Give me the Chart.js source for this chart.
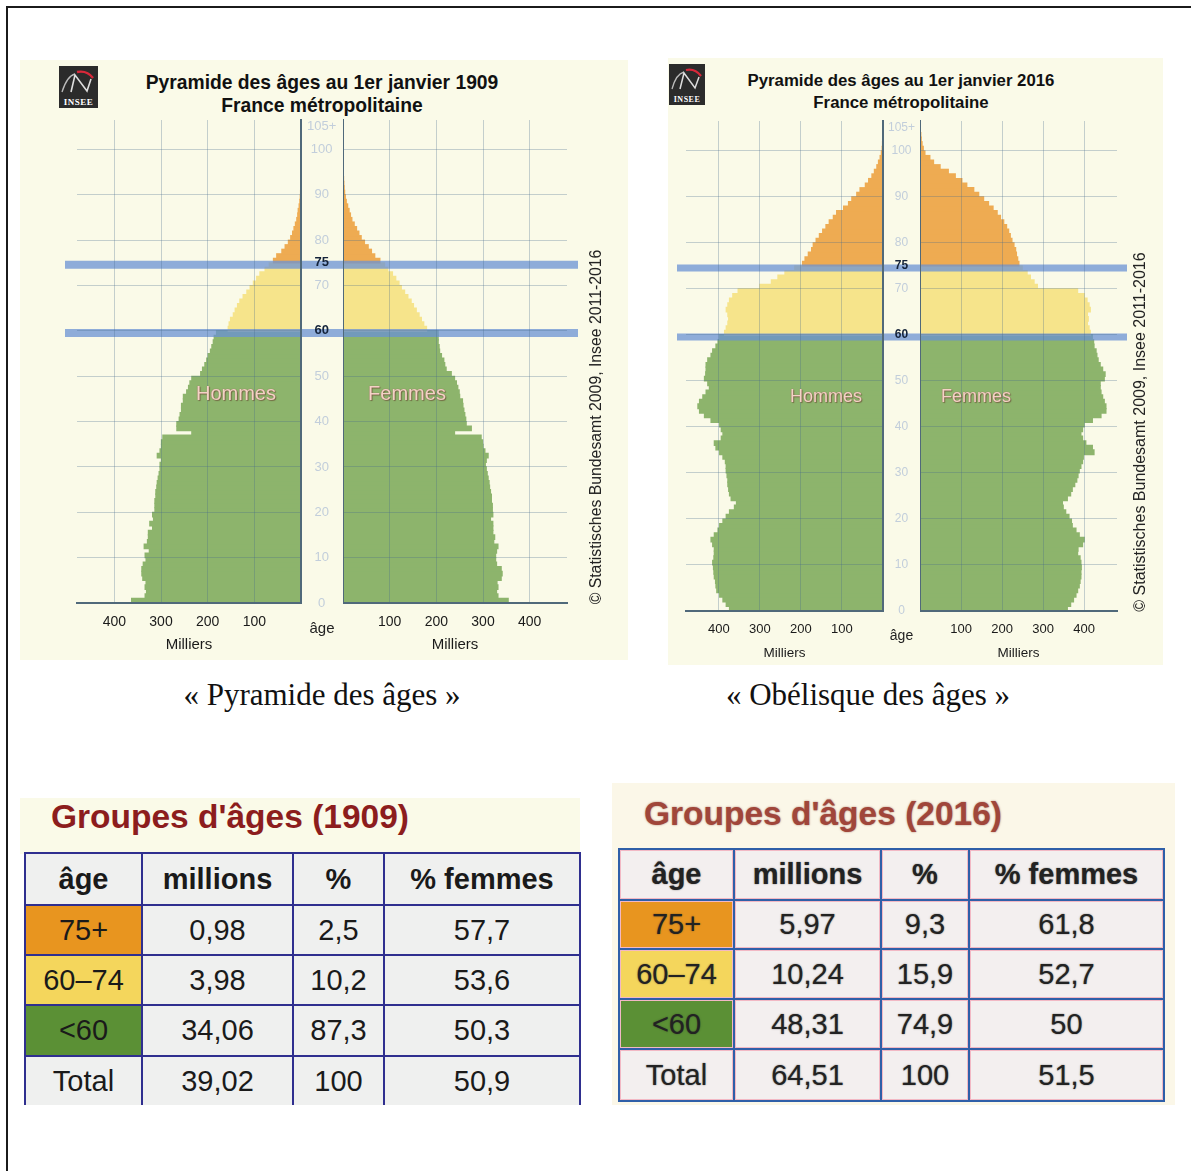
<!DOCTYPE html>
<html lang="fr">
<head>
<meta charset="utf-8">
<title>Pyramide et obélisque des âges</title>
<script src="https://cdn.jsdelivr.net/npm/chart.js@4.4.1/dist/chart.umd.min.js"></script>
<style>
    body { margin: 0; width: 1191px; height: 1171px; background: #fff; position: relative; overflow: hidden; font-family: 'Liberation Sans', Arial, sans-serif; }
    .abs { position: absolute; }
    #cadre { left: 6px; top: 6px; width: 1240px; height: 1240px; border: 2px solid #1b1b1b; }
    .panneau { background: #fafae8; }
    .titre { text-align: center; font-weight: bold; color: #111; }
    .sexe { color: #f4d2c6; text-shadow: 0 0 1px #8a5448, 1px 1px 1px rgba(90,45,35,0.55); }
    .age { color: #222; }
    .copyright { transform: rotate(-90deg); transform-origin: center center; white-space: nowrap; color: #222; text-align: center; line-height: 18px; }
    .legende { font-family: 'Liberation Serif', 'Times New Roman', serif; font-size: 31px; line-height: 36px; color: #111; text-align: center; }
    .logo { background: #2b2b2b; }
    .logo span { position: absolute; left: 0; right: 0; bottom: 1px; text-align: center; color: #fff; font-family: 'Liberation Serif', serif; font-weight: bold; letter-spacing: 0.5px; }
    canvas { position: absolute; }
    table { border-collapse: collapse; position: absolute; table-layout: fixed; }
    td { text-align: center; padding: 0; }
    #t1909 td { border: 2px solid #2f2f8f; background: #eff0ef; font-size: 29px; color: #1a1a1a; }
    #t1909 tr.fin td { border-bottom: none; }
    #t2016 td { border: 2px solid #2f5fa8; box-shadow: inset 0 0 0 1px #f2b8c4; background: #f3efef; font-size: 29px; color: #222; text-shadow: 0 0 1.5px rgba(40,40,40,0.7); }
    .entete td { font-weight: bold; }
</style>
</head>
<body>
<div id="cadre" class="abs"></div>

<div class="abs panneau" style="left:20px; top:60px; width:608px; height:600px;"></div>
<div class="abs panneau" style="left:668px; top:58px; width:495px; height:607px;"></div>

<div class="abs logo" style="left:59px; top:66px; width:39px; height:42px;">
    <svg width="39" height="32" style="position:absolute;left:0;top:0">
        <path d="M3 26 Q8 10 16 8" stroke="#bbb" stroke-width="1.3" fill="none"/>
        <polyline points="12,26 16,9 28,25 32,13" stroke="#ddd" stroke-width="1.6" fill="none"/>
        <path d="M18 6 Q28 4 34 12" stroke="#d8283a" stroke-width="2.4" fill="none"/>
    </svg>
    <span style="font-size:9px;">INSEE</span>
</div>
<div class="abs logo" style="left:669px; top:64px; width:36px; height:41px;">
    <svg width="36" height="31" style="position:absolute;left:0;top:0">
        <path d="M3 25 Q7 10 15 8" stroke="#bbb" stroke-width="1.3" fill="none"/>
        <polyline points="11,25 15,9 26,24 30,13" stroke="#ddd" stroke-width="1.5" fill="none"/>
        <path d="M17 6 Q26 4 32 12" stroke="#d8283a" stroke-width="2.2" fill="none"/>
    </svg>
    <span style="font-size:8px;">INSEE</span>
</div>

<div class="abs titre" style="left:90px; top:71px; width:464px; font-size:19.3px; line-height:23px;">Pyramide des âges au 1er janvier 1909<br>France métropolitaine</div>
<div class="abs titre" style="left:690px; top:70px; width:422px; font-size:16.8px; line-height:22px;">Pyramide des âges au 1er janvier 2016<br>France métropolitaine</div>

<canvas id="hommes1909" width="283" height="542" style="left:60px; top:112px;"></canvas>
<canvas id="femmes1909" width="240" height="542" style="left:343px; top:112px;"></canvas>
<canvas id="hommes2016" width="248" height="547" style="left:672px; top:114px;"></canvas>
<canvas id="femmes2016" width="212" height="547" style="left:920px; top:114px;"></canvas>

<div class="abs sexe" style="left:166px; top:382px; width:140px; text-align:center; font-size:20px;">Hommes</div>
<div class="abs sexe" style="left:337px; top:382px; width:140px; text-align:center; font-size:20px;">Femmes</div>
<div class="abs sexe" style="left:766px; top:386px; width:120px; text-align:center; font-size:18px;">Hommes</div>
<div class="abs sexe" style="left:916px; top:386px; width:120px; text-align:center; font-size:18px;">Femmes</div>

<div class="abs age" style="left:302px; top:619px; width:40px; text-align:center; font-size:15px;">âge</div>
<div class="abs age" style="left:883px; top:627px; width:37px; text-align:center; font-size:14px;">âge</div>

<div class="abs copyright" style="left:396px; top:418px; width:400px; font-size:15.8px;">© Statistisches Bundesamt 2009, Insee 2011-2016</div>
<div class="abs copyright" style="left:940px; top:423px; width:400px; font-size:16px;">© Statistisches Bundesamt 2009, Insee 2011-2016</div>

<div class="abs legende" style="left:122px; top:677px; width:400px;">« Pyramide des âges »</div>
<div class="abs legende" style="left:668px; top:677px; width:400px;">« Obélisque des âges »</div>

<div class="abs" style="left:20px; top:798px; width:560px; height:56px; background:#fafae8;"></div>
<div class="abs" style="left:51px; top:797px; font-size:33.5px; line-height:40px; font-weight:bold; color:#8c1d1d;">Groupes d'âges (1909)</div>

<div class="abs" style="left:612px; top:783px; width:563px; height:322px; background:#fbf7e8;"></div>
<div class="abs" style="left:644px; top:794px; font-size:33.5px; line-height:40px; font-weight:bold; color:#a0463a; text-shadow:0 0 2px rgba(120,40,30,0.6);">Groupes d'âges (2016)</div>

<table id="t1909" style="left:24px; top:852px;"></table>
<table id="t2016" style="left:618px; top:848px;"></table>

<script>
var ages = [0, 1, 2, 3, 4, 5, 6, 7, 8, 9, 10, 11, 12, 13, 14, 15, 16, 17, 18, 19,
    20, 21, 22, 23, 24, 25, 26, 27, 28, 29, 30, 31, 32, 33, 34, 35, 36, 37, 38, 39,
    40, 41, 42, 43, 44, 45, 46, 47, 48, 49, 50, 51, 52, 53, 54, 55, 56, 57, 58, 59,
    60, 61, 62, 63, 64, 65, 66, 67, 68, 69, 70, 71, 72, 73, 74, 75, 76, 77, 78, 79,
    80, 81, 82, 83, 84, 85, 86, 87, 88, 89, 90, 91, 92, 93, 94, 95, 96, 97, 98, 99,
    100, 101, 102, 103, 104, 105];
var ageTicks = [0, 10, 20, 30, 40, 50, 60, 70, 75, 80, 90, 100, 105];
var milliersTicks = [100, 200, 300, 400];
var seuils = [60, 75];

// effectifs en milliers, par âge (0 a 105+)
var hommes1909 = [363, 334, 331, 334, 332, 339, 341, 341, 338, 332,
    334, 325, 336, 329, 327, 327, 318, 324, 316, 318,
    313, 313, 313, 311, 311, 309, 308, 306, 304, 302,
    302, 299, 308, 302, 299, 299, 296, 234, 266, 266,
    261, 259, 256, 256, 252, 252, 245, 241, 238, 234,
    215, 211, 206, 202, 199, 194, 191, 188, 186, 181,
    156, 154, 151, 145, 141, 136, 131, 124, 116, 109,
    102, 95, 88, 77, 68, 59, 52, 41, 34, 27,
    22, 18, 15, 12, 9, 7, 6, 4, 2.5, 1.5,
    1, 0.7, 0.5, 0.3, 0.2, 0.1, 0.1, 0.05, 0, 0,
    0, 0, 0, 0, 0, 0];
var femmes1909 = [354, 332, 329, 332, 330, 339, 341, 339, 329, 327,
    327, 329, 332, 323, 325, 321, 321, 321, 316, 321,
    320, 320, 318, 318, 316, 314, 313, 311, 309, 307,
    305, 307, 311, 304, 300, 299, 296, 239, 275, 264,
    263, 261, 259, 257, 256, 250, 249, 246, 243, 239,
    232, 221, 218, 216, 211, 207, 206, 204, 204, 204,
    179, 173, 168, 163, 157, 151, 146, 139, 132, 125,
    120, 113, 106, 96, 89, 79, 68, 61, 54, 46,
    39, 34, 29, 24, 19, 16, 13, 10, 7, 5,
    3.5, 2.5, 1.8, 1.2, 0.8, 0.5, 0.3, 0.2, 0.1, 0.1,
    0, 0, 0, 0, 0, 0];
var hommes2016 = [374, 382, 390, 398, 405, 407, 408, 411, 412, 413,
    415, 412, 411, 411, 415, 419, 411, 402, 398, 390,
    382, 374, 362, 357, 370, 374, 376, 378, 378, 380,
    382, 382, 384, 390, 398, 407, 411, 394, 390, 394,
    398, 419, 435, 447, 451, 447, 439, 431, 423, 427,
    435, 432, 431, 431, 427, 419, 415, 407, 402, 398,
    386, 382, 378, 376, 378, 382, 378, 374, 366, 353,
    300, 272, 256, 239, 215, 196, 190, 182, 174, 170,
    163, 155, 147, 139, 131, 121, 113, 96, 84, 76,
    64, 56, 43, 35, 27, 21, 15, 11, 7, 4,
    2, 1.2, 0.7, 0.4, 0.2, 0.1];
var femmes2016 = [359, 367, 374, 380, 384, 388, 390, 392, 392, 393,
    392, 390, 384, 385, 396, 400, 388, 380, 371, 369,
    363, 355, 349, 347, 359, 367, 371, 377, 382, 385,
    388, 392, 396, 398, 424, 420, 404, 396, 392, 396,
    400, 420, 441, 453, 453, 449, 445, 441, 439, 439,
    449, 451, 445, 439, 434, 431, 429, 424, 423, 420,
    415, 412, 408, 410, 408, 415, 412, 407, 400, 384,
    286, 278, 269, 261, 249, 241, 238, 235, 233, 229,
    224, 220, 216, 211, 204, 196, 188, 178, 167, 155,
    143, 131, 114, 102, 86, 69, 49, 33, 24, 12,
    8, 5, 3, 2, 1, 0.6];

// tableaux des groupes d'ages
var groupes = ['75+', '60–74', '<60', 'Total'];
var colonnes = ['âge', 'millions', '%', '% femmes'];
var millions1909 = ['0,98', '3,98', '34,06', '39,02'];
var pct1909 = ['2,5', '10,2', '87,3', '100'];
var femmesPct1909 = ['57,7', '53,6', '50,3', '50,9'];
var millions2016 = ['5,97', '10,24', '48,31', '64,51'];
var pct2016 = ['9,3', '15,9', '74,9', '100'];
var femmesPct2016 = ['61,8', '52,7', '50', '51,5'];

var POLICE = "'Liberation Sans', Arial, sans-serif";

var lignesBleues = {
    id: 'lignesBleues',
    afterDatasetsDraw: function(chart, args, opts) {
        var ctx = chart.ctx;
        var y = chart.scales.y;
        ctx.save();
        ctx.strokeStyle = 'rgba(105,146,212,0.75)';
        ctx.lineWidth = opts.epaisseur;
        for (var i = 0; i < seuils.length; i++) {
            var py = y.getPixelForValue(seuils[i]) + 2;
            ctx.beginPath();
            ctx.moveTo(opts.x0, py);
            ctx.lineTo(opts.x1, py);
            ctx.stroke();
        }
        ctx.restore();
    }
};

var Pyramide = {
    couleur: function(age) {
        if (age >= 75) return '#eeab52';
        if (age >= 60) return '#f6e48b';
        return '#8db46c';
    },

    creer: function(id, valeurs, hommes, g) {
        var points = [];
        var couleurs = [];
        for (var i = 0; i < ages.length; i++) {
            points.push({ x: valeurs[i], y: ages[i] + 0.5 });
            couleurs.push(this.couleur(ages[i]));
        }

        var ctx = document.getElementById(id);
        return new Chart(ctx, {
            type: 'bar',
            data: {
                datasets: [{
                    data: points,
                    backgroundColor: couleurs,
                    borderWidth: 0,
                    inflateAmount: 0.6,
                    barPercentage: 1,
                    categoryPercentage: 1
                }]
            },
            options: {
                indexAxis: 'y',
                responsive: false,
                animation: false,
                layout: { padding: g.padding },
                plugins: {
                    legend: { display: false },
                    tooltip: { enabled: false },
                    lignesBleues: { x0: g.ligne[0], x1: g.ligne[1], epaisseur: g.epaisseur }
                },
                scales: {
                    x: {
                        type: 'linear',
                        min: 0,
                        max: 480,
                        reverse: hommes,
                        afterBuildTicks: function(s) {
                            s.ticks = milliersTicks.map(function(v) { return { value: v }; });
                        },
                        afterFit: function(s) { s.height = g.hauteurX; },
                        grid: { color: 'rgba(70,105,140,0.3)', lineWidth: 1, drawTicks: false, z: 1 },
                        border: { color: '#50697a', width: 2, z: 1 },
                        ticks: { padding: g.padX, color: '#1a1a1a', font: { family: POLICE, size: g.tailleX } },
                        title: {
                            display: true,
                            text: 'Milliers',
                            color: '#1a1a1a',
                            font: { family: POLICE, size: g.tailleTitre },
                            padding: 0
                        }
                    },
                    y: {
                        type: 'linear',
                        min: 0,
                        max: 106.5,
                        offset: false,
                        position: hommes ? 'right' : 'left',
                        afterBuildTicks: function(s) {
                            s.ticks = ageTicks.map(function(v) { return { value: v }; });
                        },
                        afterFit: function(s) {
                            s.width = hommes ? g.ecart : 0;
                            s.paddingTop = 0;
                            s.paddingBottom = 0;
                        },
                        grid: {
                            offset: false,
                            drawTicks: false,
                            z: 1,
                            color: function(c) {
                                var v = c.tick ? c.tick.value : 0;
                                if (v === 0 || v === 75 || v === 105) return 'rgba(0,0,0,0)';
                                return 'rgba(70,105,140,0.3)';
                            }
                        },
                        border: { color: '#50697a', width: 2, z: 1 },
                        ticks: {
                            display: hommes,
                            z: 2,
                            crossAlign: 'center',
                            padding: g.padAge,
                            callback: function(v) { return v === 105 ? '105+' : String(v); },
                            color: function(c) {
                                var v = c.tick ? c.tick.value : 0;
                                return (v === 60 || v === 75) ? '#14233a' : '#c2cedb';
                            },
                            font: function(c) {
                                var v = c.tick ? c.tick.value : 0;
                                var gras = (v === 60 || v === 75);
                                return { family: POLICE, size: g.tailleAge, weight: gras ? 'bold' : 'normal' };
                            }
                        }
                    }
                }
            },
            plugins: [lignesBleues]
        });
    },

    tableau: function(id, millions, pct, femmesPct) {
        var fonds = ['#e8951f', '#f4d65c', '#5b9035', null];
        var largeurs = id === 't1909' ? [117, 151, 91, 196] : [115, 147, 88, 195];
        var hauteurs = id === 't1909' ? [52, 50, 50, 51, 49] : [51, 49, 50, 50, 52];
        var html = '<colgroup>';
        for (var k = 0; k < largeurs.length; k++) html += '<col style="width:' + largeurs[k] + 'px">';
        html += '</colgroup>';
        html += '<tr class="entete" style="height:' + hauteurs[0] + 'px">';
        for (var c = 0; c < colonnes.length; c++) html += '<td>' + colonnes[c] + '</td>';
        html += '</tr>';
        for (var i = 0; i < groupes.length; i++) {
            var cls = i === groupes.length - 1 ? ' class="fin"' : '';
            var fond = fonds[i] ? ' style="background:' + fonds[i] + '"' : '';
            html += '<tr' + cls + ' style="height:' + hauteurs[i + 1] + 'px">';
            html += '<td' + fond + '>' + groupes[i].replace('<', '&lt;') + '</td>';
            html += '<td>' + millions[i] + '</td>';
            html += '<td>' + pct[i] + '</td>';
            html += '<td>' + femmesPct[i] + '</td>';
            html += '</tr>';
        }
        var t = document.getElementById(id);
        t.style.width = largeurs.reduce(function(a, b) { return a + b; }, 0) + 'px';
        t.innerHTML = html;
    }
};

var g1909 = { padX: 11, hauteurX: 51, padAge: 6, tailleX: 14, tailleTitre: 15, tailleAge: 13, ecart: 42, epaisseur: 8 };
var g2016 = { padX: 11, hauteurX: 50, padAge: 5, tailleX: 13, tailleTitre: 13.5, tailleAge: 12, ecart: 37, epaisseur: 7 };

function opts(base, extra) {
    var o = {};
    for (var k in base) o[k] = base[k];
    for (var e in extra) o[e] = extra[e];
    return o;
}

window.onload = function() {
    Pyramide.creer('hommes1909', hommes1909, true, opts(g1909, { padding: { left: 17, right: 0, top: 8, bottom: 0 }, ligne: [5, 283] }));
    Pyramide.creer('femmes1909', femmes1909, false, opts(g1909, { padding: { left: 0, right: 16, top: 8, bottom: 0 }, ligne: [0, 235] }));
    Pyramide.creer('hommes2016', hommes2016, true, opts(g2016, { padding: { left: 14, right: 0, top: 7, bottom: 0 }, ligne: [5, 248] }));
    Pyramide.creer('femmes2016', femmes2016, false, opts(g2016, { padding: { left: 0, right: 15, top: 7, bottom: 0 }, ligne: [0, 207] }));
    Pyramide.tableau('t1909', millions1909, pct1909, femmesPct1909);
    Pyramide.tableau('t2016', millions2016, pct2016, femmesPct2016);
};
</script>
</body>
</html>
